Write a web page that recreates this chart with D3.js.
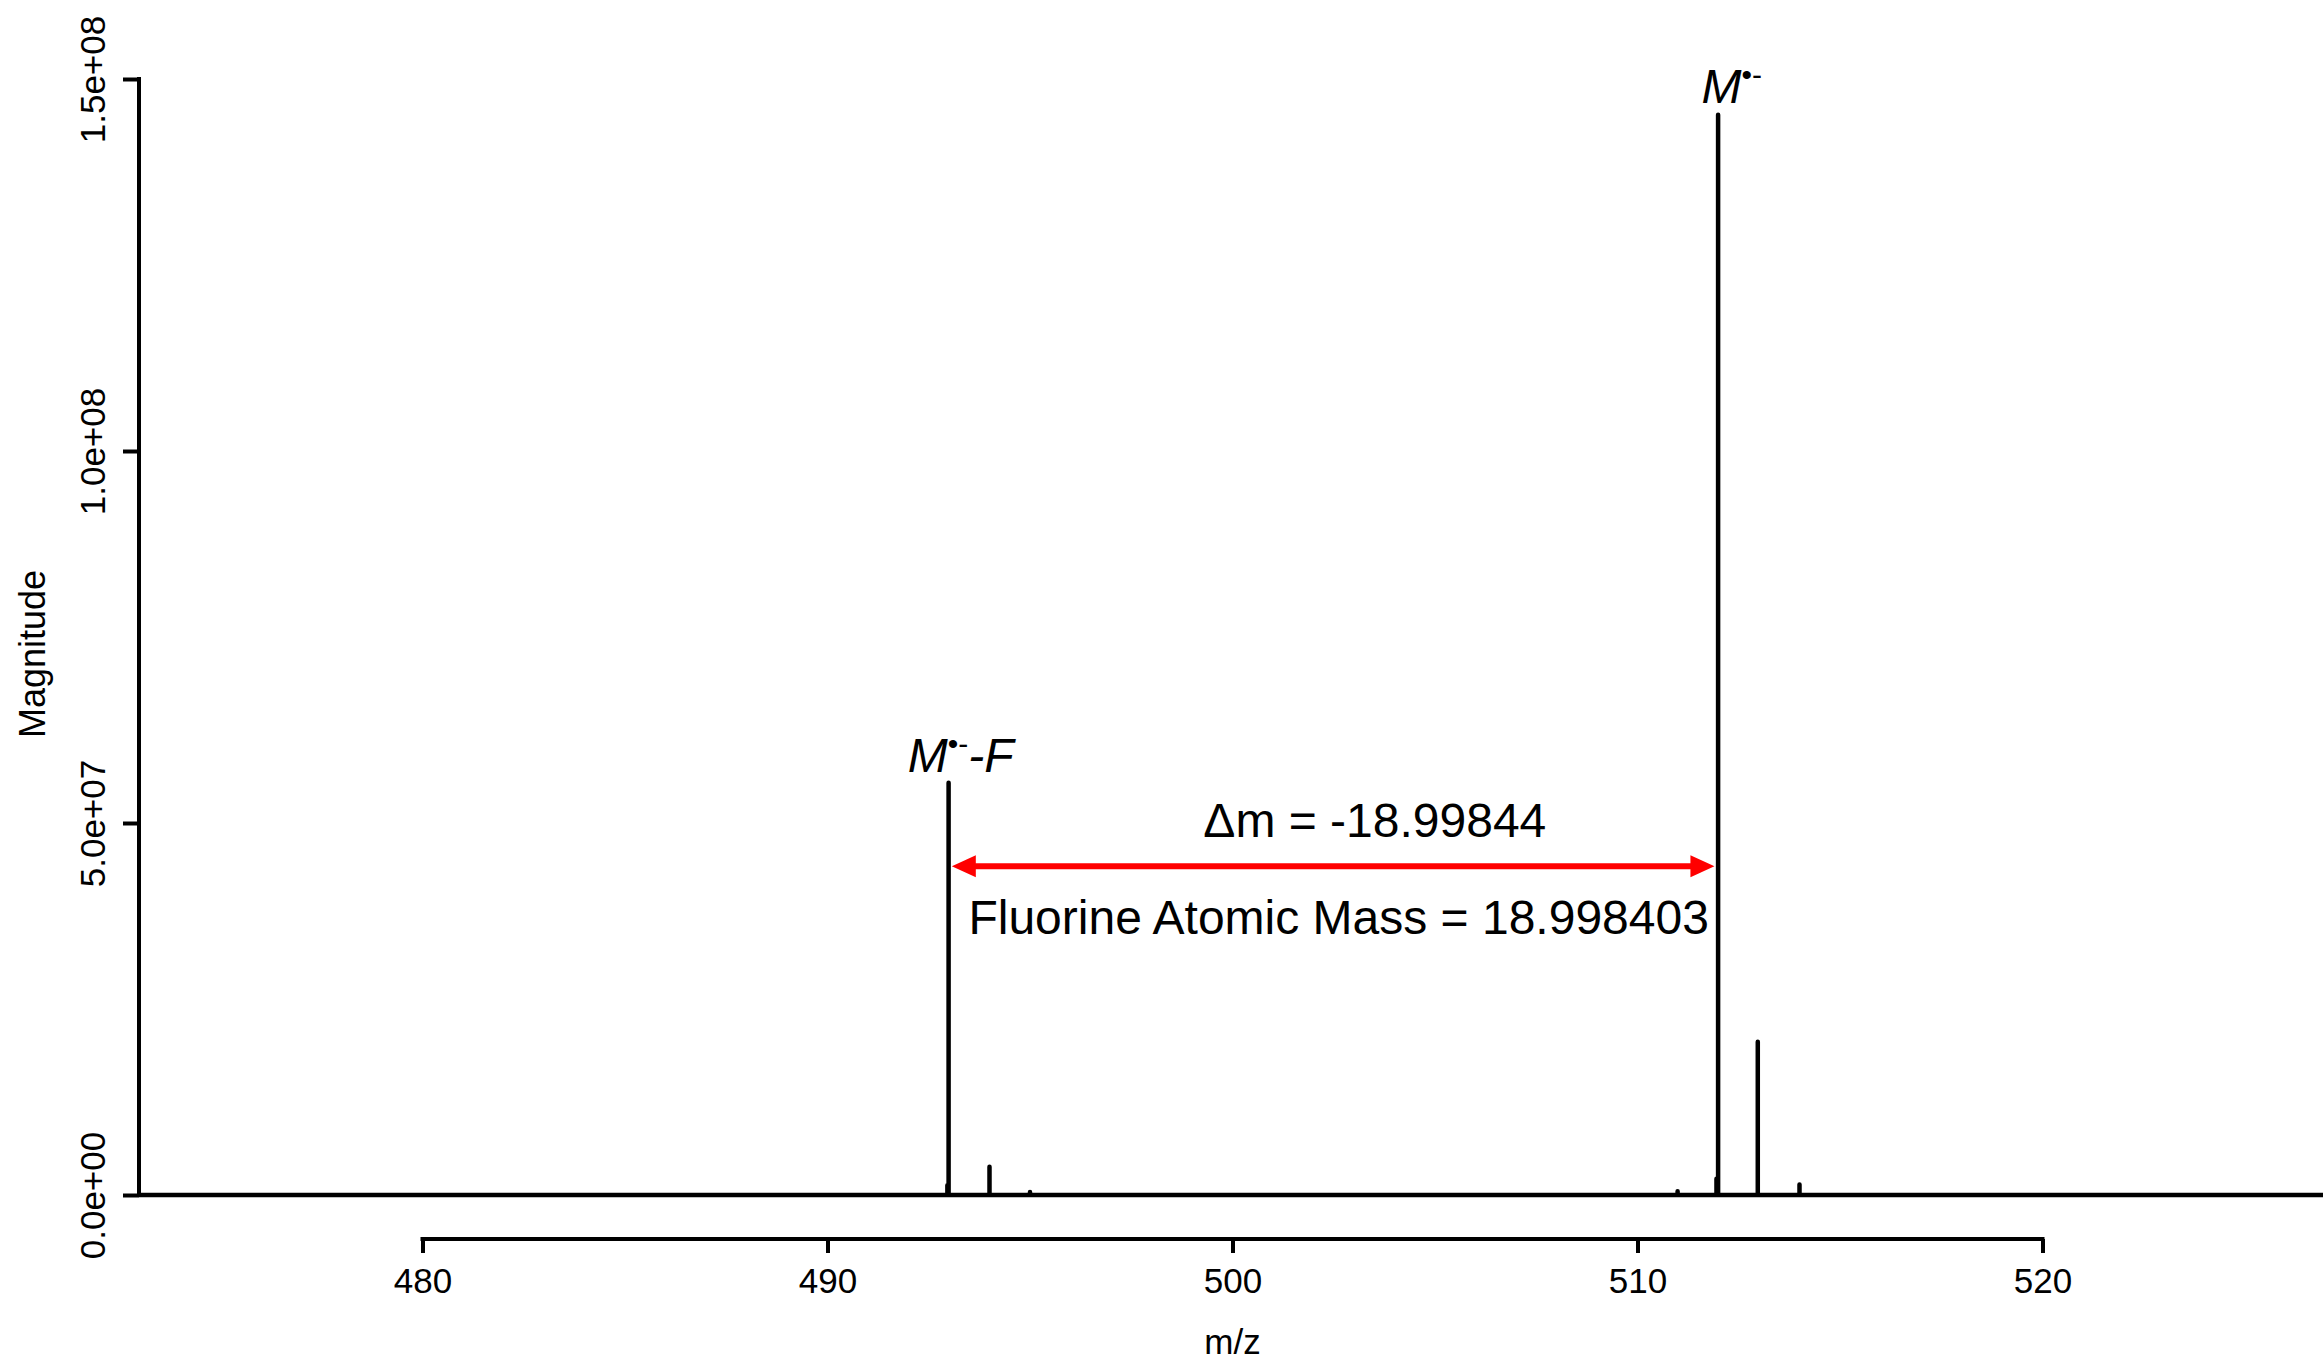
<!DOCTYPE html>
<html>
<head>
<meta charset="utf-8">
<script src="https://cdn.jsdelivr.net/npm/d3@7"></script>
<style>
  body { margin: 0; background: #fff; }
  text { font-family: "Liberation Sans", Arial, sans-serif; fill: #000; }
</style>
</head>
<body>
<script>
// stick spectrum: m/z and magnitude
const mzValues = [492.96, 492.99, 494.00, 495.00, 510.99, 511.95, 511.99, 512.97, 514.00];
const magnitudes = [1.3e6, 5.54e7, 3.8e6, 4e5, 5e5, 2.2e6, 1.452e8, 2.06e7, 1.4e6];
const xTicks = [480, 490, 500, 510, 520];
const yTicks = [0, 5e7, 1e8, 1.5e8];
const yTickLabels = ['0.0e+00', '5.0e+07', '1.0e+08', '1.5e+08'];

// annotation anchors (data space)
const arrowFrom = [493.07, 4.42e7];
const arrowTo = [511.90, 4.42e7];
const deltaLabel = { text: 'Δm = -18.99844', mz: 499.28, mag: 4.81e7 };
const massLabel = { text: 'Fluorine Atomic Mass = 18.998403', mz: 493.48, mag: 3.51e7 };
const peakLabels = [
  { main: 'M', sup: '•-', tail: '-F', mz: 491.98, mag: 5.69e7 },
  { main: 'M', sup: '•-', tail: '', mz: 511.58, mag: 1.468e8 }
];

(function init() {
  const width = 2323;
  const height = 1361;

  const svg = d3.select('body')
    .append('svg')
    .attr('width', width)
    .attr('height', height);

  // plot region: x 473..527
  const x = d3.scaleLinear().domain([473, 527]).range([139, 2326]);
  const y = d3.scaleLinear().domain([0, 1.5e8]).range([1195, 79]);

  // spectrum line
  const pts = [[473, 0]];
  mzValues.forEach((m, i) => {
    pts.push([m, 0], [m, magnitudes[i]], [m, 0]);
  });
  pts.push([527, 0]);
  const line = d3.line().x(d => x(d[0])).y(d => y(d[1]));
  svg.append('path')
    .attr('d', line(pts))
    .attr('fill', 'none')
    .attr('stroke', '#000')
    .attr('stroke-width', 4.5)
    .attr('stroke-linejoin', 'round');

  // x axis
  const xAxisY = 1239;
  const gx = svg.append('g')
    .attr('transform', `translate(0,${xAxisY})`)
    .call(d3.axisBottom(x).tickValues(xTicks).tickSize(14).tickSizeOuter(0).tickFormat(d3.format('d')));
  gx.select('.domain').remove();
  gx.append('line')
    .attr('x1', x(xTicks[0])).attr('x2', x(xTicks[xTicks.length - 1]))
    .attr('y1', 0).attr('y2', 0)
    .attr('stroke', '#000').attr('stroke-width', 4).attr('stroke-linecap', 'square');
  gx.selectAll('.tick line').attr('stroke', '#000').attr('stroke-width', 4);
  gx.selectAll('.tick text')
    .attr('y', 54).attr('dy', 0)
    .style('font-size', '35px')
    .style('font-family', '"Liberation Sans", Arial, sans-serif');

  // y axis
  const yAxisX = 139;
  const gy = svg.append('g')
    .attr('transform', `translate(${yAxisX},0)`)
    .call(d3.axisLeft(y).tickValues(yTicks).tickSize(16).tickSizeOuter(0)
      .tickFormat((d, i) => yTickLabels[i]));
  gy.select('.domain').remove();
  gy.append('line')
    .attr('x1', 0).attr('x2', 0)
    .attr('y1', y(0)).attr('y2', y(1.5e8))
    .attr('stroke', '#000').attr('stroke-width', 4).attr('stroke-linecap', 'square');
  gy.selectAll('.tick line').attr('stroke', '#000').attr('stroke-width', 4);
  gy.selectAll('.tick text')
    .attr('transform', 'rotate(-90)')
    .attr('x', 0).attr('y', -34).attr('dy', 0)
    .attr('text-anchor', 'middle')
    .style('font-size', '35px')
    .style('font-family', '"Liberation Sans", Arial, sans-serif');

  // axis titles
  svg.append('text')
    .attr('x', (139 + 2326) / 2).attr('y', 1354)
    .attr('text-anchor', 'middle')
    .style('font-size', '35px')
    .text('m/z');
  svg.append('text')
    .attr('transform', 'translate(45,654) rotate(-90)')
    .attr('text-anchor', 'middle')
    .style('font-size', '36px')
    .text('Magnitude');

  // red double arrow
  const ax1 = x(arrowFrom[0]), ax2 = x(arrowTo[0]), ay = y(arrowFrom[1]);
  const headLen = 24, headHalf = 11;
  svg.append('line')
    .attr('x1', ax1 + headLen - 2).attr('x2', ax2 - headLen + 2)
    .attr('y1', ay).attr('y2', ay)
    .attr('stroke', '#ff0000').attr('stroke-width', 6);
  svg.append('path')
    .attr('d', `M${ax1},${ay}L${ax1 + headLen},${ay - headHalf}L${ax1 + headLen},${ay + headHalf}Z`)
    .attr('fill', '#ff0000');
  svg.append('path')
    .attr('d', `M${ax2},${ay}L${ax2 - headLen},${ay - headHalf}L${ax2 - headLen},${ay + headHalf}Z`)
    .attr('fill', '#ff0000');

  // annotation text
  [deltaLabel, massLabel].forEach(l => {
    svg.append('text')
      .attr('x', x(l.mz)).attr('y', y(l.mag))
      .style('font-size', '48px')
      .text(l.text);
  });

  peakLabels.forEach(l => {
    const t = svg.append('text')
      .attr('x', x(l.mz)).attr('y', y(l.mag))
      .style('font-size', '48px')
      .style('font-style', 'italic');
    t.append('tspan').text(l.main);
    t.append('tspan')
      .attr('dy', -18)
      .style('font-size', '30px')
      .style('font-style', 'normal')
      .text(l.sup);
    if (l.tail) {
      t.append('tspan')
        .attr('dy', 18)
        .text(l.tail);
    }
  });
}());
</script>
</body>
</html>
